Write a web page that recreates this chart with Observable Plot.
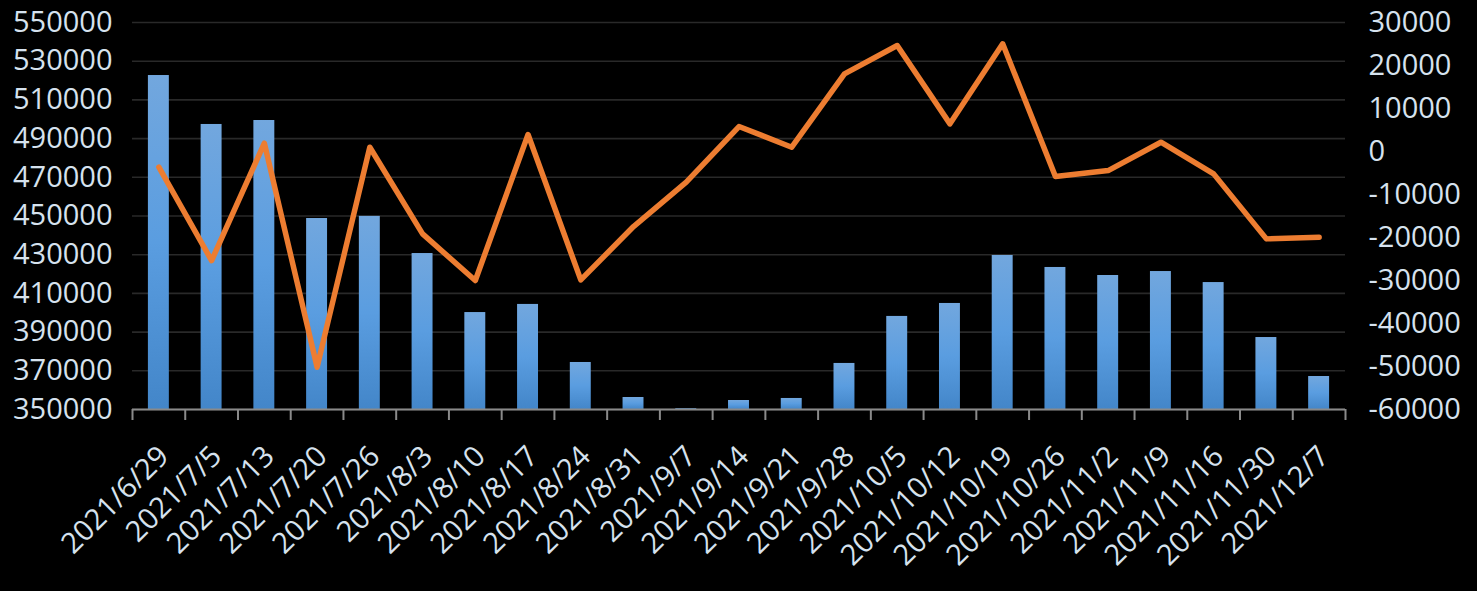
<!DOCTYPE html>
<html>
<head>
<meta charset="utf-8">
<script src="https://cdn.jsdelivr.net/npm/d3@7"></script>
<script src="https://cdn.jsdelivr.net/npm/@observablehq/plot@0.6"></script>
<style>
  html, body { margin: 0; padding: 0; background: #000; }
  #chart svg { display: block; }
</style>
</head>
<body>
<div id="chart"></div>
<script>
const dates = ["2021/6/29","2021/7/5","2021/7/13","2021/7/20","2021/7/26","2021/8/3","2021/8/10","2021/8/17","2021/8/24","2021/8/31","2021/9/7","2021/9/14","2021/9/21","2021/9/28","2021/10/5","2021/10/12","2021/10/19","2021/10/26","2021/11/2","2021/11/9","2021/11/16","2021/11/30","2021/12/7"];
const volume = [522600, 497300, 499350, 448700, 449800, 430600, 400100, 404300, 374300, 356200, 350400, 354650, 355700, 373800, 398100, 404800, 429600, 423400, 419250, 421300, 415600, 387200, 367050];
const change = [-3650, -25360, 1930, -50170, 1000, -19150, -30010, 3950, -29860, -17450, -7140, 5810, 1000, 18060, 24650, 6430, 25040, -5820, -4430, 2160, -5200, -20320, -19930];
const leftTicks = [350000, 370000, 390000, 410000, 430000, 450000, 470000, 490000, 510000, 530000, 550000];
const rightTicks = [-60000, -50000, -40000, -30000, -20000, -10000, 0, 10000, 20000, 30000];

const leftDomain = [350000, 550000];
const rightDomain = [-60000, 30000];
const toLeft = v => leftDomain[0] + (v - rightDomain[0]) * (leftDomain[1] - leftDomain[0]) / (rightDomain[1] - rightDomain[0]);

const table = dates.map((d, i) => ({date: d, volume: volume[i], change: change[i]}));

const W = 1477, H = 591, ML = 132, MR = 132, MT = 22, MB = 182;
const bw = (W - ML - MR) / dates.length;
const labelColor = "#d6e2ee";

const svg = Plot.plot({
  width: W, height: H,
  marginLeft: ML, marginRight: MR, marginTop: MT, marginBottom: MB,
  style: {background: "#000", color: labelColor, fontFamily: "'Open Sans', sans-serif", fontSize: "29px"},
  x: {type: "band", domain: dates, paddingInner: 0, paddingOuter: 0, round: false, axis: null},
  y: {domain: leftDomain, label: null},
  marks: [
    Plot.gridY(leftTicks, {stroke: "#292929", strokeOpacity: 1, strokeWidth: 1.6}),
    Plot.barY(table, {x: "date", y1: leftDomain[0], y2: "volume", fill: "url(#barGrad)", insetLeft: 15.9, insetRight: 15.9}),
    Plot.ruleY([leftDomain[0]], {stroke: "#8a8a8a", strokeWidth: 2}),
    Plot.ruleX(dates, {x: d => d, dx: -bw / 2, insetTop: H - MT - MB, insetBottom: -11, stroke: "#8a8a8a", strokeWidth: 2}),
    Plot.ruleX([dates[dates.length - 1]], {x: d => d, dx: bw / 2, insetTop: H - MT - MB, insetBottom: -11, stroke: "#8a8a8a", strokeWidth: 2}),
    Plot.line(table, {x: "date", y: d => toLeft(d.change), stroke: "#ed7d31", strokeWidth: 5.5, strokeLinejoin: "round", strokeLinecap: "round"}),
    Plot.axisY(leftTicks, {anchor: "left", label: null, tickSize: 0, tickPadding: 20, tickFormat: d => String(d), fill: labelColor, fontSize: 29}),
    Plot.text(rightTicks, {y: d => toLeft(d), text: d => String(d), frameAnchor: "right", textAnchor: "start", dx: 23, fill: labelColor, fontSize: 29}),
    Plot.text(dates, {x: d => d, text: d => d, frameAnchor: "bottom", rotate: -45, textAnchor: "end", lineAnchor: "middle", dx: 5, dy: 42, fill: labelColor, fontSize: 29, letterSpacing: "1.5px"})
  ]
});

const defs = d3.select(svg).insert("defs", ":first-child");
const grad = defs.append("linearGradient").attr("id", "barGrad").attr("x1", 0).attr("y1", 0).attr("x2", 0).attr("y2", 1);
grad.append("stop").attr("offset", "0%").attr("stop-color", "#72a7de");
grad.append("stop").attr("offset", "50%").attr("stop-color", "#5a9de0");
grad.append("stop").attr("offset", "100%").attr("stop-color", "#4386c9");

document.getElementById("chart").appendChild(svg);
</script>
</body>
</html>
